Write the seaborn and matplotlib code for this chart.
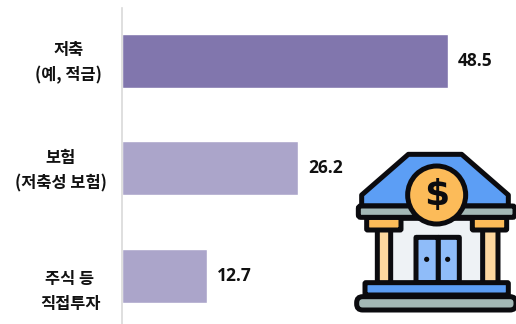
import matplotlib.pyplot as plt
import matplotlib.patches as mpatches
from matplotlib.transforms import ScaledTranslation
import seaborn as sns

categories = ['저축\n(예, 적금)', '보험\n(저축성 보험)', '주식 등\n직접투자']
values = [48.5, 26.2, 12.7]
bar_colors = ['#8176ad', '#aba5ca', '#aba5ca']

W, H = 516, 324
INK = '#0b0b0f'

sns.set_theme(style='white')
plt.rcParams['font.family'] = ['Noto Sans CJK KR', 'DejaVu Sans']

fig = plt.figure(figsize=(W / 100, H / 100), dpi=100)
# axes box in pixels: x 122..516, y 8..324
ax = fig.add_axes([122 / W, 0, (W - 122) / W, (H - 8) / H])

sns.barplot(x=values, y=categories, hue=categories, palette=bar_colors,
            legend=False, width=0.5, saturation=1, ax=ax)
ax.set_xlim(0, (W - 122) / 6.72)
ax.set_ylim(2.45, -0.49)
ax.set_xlabel('')
ax.set_ylabel('')
ax.set_xticks([])
sns.despine(ax=ax, top=True, right=True, bottom=True)
ax.spines['left'].set_color('#d9d9d9')
ax.spines['left'].set_linewidth(1.2)
ax.tick_params(axis='y', length=0, pad=0)

# label centres sit left of the axis by these pixel amounts, third one hangs below its bar
label_shift = [(-53.5, 4), (-61.5, 3), (-52, -10)]
for label, (dx, dy) in zip(ax.get_yticklabels(), label_shift):
    label.set_fontsize(11.8)
    label.set_fontweight('bold')
    label.set_color('#111111')
    label.set_ha('center')
    label.set_multialignment('center')
    label.set_linespacing(1.55)
    label.set_transform(label.get_transform()
                        + ScaledTranslation(dx / 100, dy / 100, fig.dpi_scale_trans))

for container in ax.containers:
    ax.bar_label(container, fmt='%.1f', padding=7, fontsize=12.5,
                 fontweight='bold', color='#111111', family='Open Sans')

# bank icon, drawn on a pixel overlay (coordinates from the 3x crop)
icon = fig.add_axes([0, 0, 1, 1], facecolor='none')
icon.set_xlim(0, W)
icon.set_ylim(H, 0)
icon.axis('off')


def px(x, y):
    return 340 + x / 3, 140 + y / 3


def poly(points, color, z=3):
    icon.add_patch(mpatches.Polygon([px(*p) for p in points], closed=True, fc=color,
                                    ec=INK, lw=3.6, joinstyle='round', zorder=z))


def rbox(x0, y0, x1, y1, color, z=3, round_px=2.5):
    a, b = px(x0, y0)
    c, d = px(x1, y1)
    icon.add_patch(mpatches.FancyBboxPatch((a, b), c - a, d - b, fc=color, ec=INK, lw=3.6,
                                           boxstyle=f'round,pad=0,rounding_size={round_px}',
                                           zorder=z))


poly([(205, 43), (365, 43), (505, 165), (505, 198), (65, 198), (65, 165)], '#5c9ef5', 2)
rbox(150, 235, 430, 430, '#eef2f5', 2)
rbox(112, 265, 152, 430, '#fdd79f', 3, 0.5)
rbox(428, 265, 474, 430, '#fdd79f', 3, 0.5)
rbox(80, 232, 183, 270, '#fcbb59', 3, 1)
rbox(397, 232, 500, 270, '#fcbb59', 3, 1)
rbox(55, 198, 525, 232, '#a3b8b6', 4)
rbox(228, 292, 295, 428, '#8fbcf9', 4, 0.5)
rbox(295, 292, 358, 428, '#8fbcf9', 4, 0.5)
rbox(75, 428, 505, 465, '#5c9ef5', 5, 1)
rbox(50, 470, 528, 510, '#a3b8b6', 6, 6)

cx, cy = px(290, 165)
icon.add_patch(mpatches.Circle((cx, cy), 29, fc='#fcbb59', ec=INK, lw=3.6, zorder=7))
icon.text(cx, cy, '$', ha='center', va='center', fontsize=26, fontweight='bold',
          color=INK, family='DejaVu Sans', zorder=8)
for x in (260, 323):
    dx, dy = px(x, 358)
    icon.add_patch(mpatches.Circle((dx, dy), 2.6, fc=INK, ec='none', zorder=8))

fig.savefig('out.png', dpi=100)
